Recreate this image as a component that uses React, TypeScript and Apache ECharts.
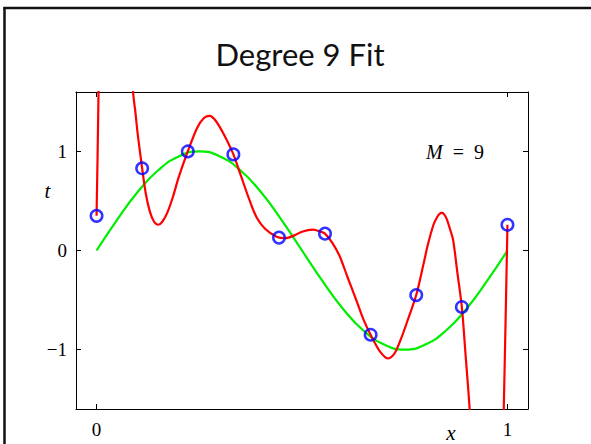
import React, { useEffect, useRef } from "react";
import * as echarts from "echarts";

const xTicks = [0, 1];
const yTicks = [-1, 0, 1];

// observed points (blue circles)
const pointX = [0, 0.111, 0.222, 0.333, 0.444, 0.556, 0.667, 0.778, 0.889, 1];
const pointY = [0.35, 0.83, 1.0, 0.97, 0.13, 0.17, -0.85, -0.45, -0.57, 0.26];

// green curve
const greenX = [0, 0.05, 0.1, 0.15, 0.2, 0.25, 0.3, 0.35, 0.4, 0.45, 0.5, 0.55, 0.6, 0.65, 0.7, 0.75, 0.8, 0.85, 0.9, 0.95, 1];
const greenY = [0, 0.31, 0.59, 0.81, 0.95, 1.0, 0.95, 0.81, 0.59, 0.31, 0, -0.31, -0.59, -0.81, -0.95, -1.0, -0.95, -0.81, -0.59, -0.31, 0];

// red curve (degree 9 fit), three visible pieces
const redPiece1 = [[0, 0.35], [0.0025, 0.95], [0.005, 1.65], [0.007, 2.2]];
const redPiece2 = [
  [0.084, 2.2], [0.089, 1.6], [0.095, 1.38], [0.1, 1.18], [0.111, 0.83], [0.12, 0.57],
  [0.13, 0.39], [0.14, 0.29], [0.15, 0.26], [0.16, 0.29], [0.172, 0.38], [0.185, 0.53],
  [0.2, 0.74], [0.222, 1.0], [0.245, 1.24], [0.262, 1.34], [0.275, 1.36], [0.29, 1.31],
  [0.31, 1.17], [0.333, 0.97], [0.35, 0.77], [0.373, 0.5], [0.39, 0.33], [0.41, 0.22],
  [0.438, 0.14], [0.46, 0.125], [0.48, 0.15], [0.5, 0.19], [0.527, 0.21], [0.545, 0.19],
  [0.556, 0.17], [0.575, 0.07], [0.592, -0.06], [0.61, -0.26], [0.633, -0.51], [0.65, -0.7],
  [0.667, -0.85], [0.69, -1.02], [0.71, -1.09], [0.725, -1.04], [0.742, -0.88], [0.76, -0.67],
  [0.778, -0.45], [0.795, -0.15], [0.807, 0.07], [0.82, 0.26], [0.828, 0.33], [0.835, 0.37],
  [0.84, 0.38], [0.845, 0.37], [0.852, 0.32], [0.86, 0.22], [0.868, 0.1], [0.878, -0.22],
  [0.889, -0.57], [0.898, -1.05], [0.908, -1.6], [0.914, -2.1],
];
const redPiece3 = [[0.988, -2.2], [0.991, -1.6], [0.9955, -0.7], [1, 0.26]];

const titleText = "Degree 9 Fit";

export default function App() {
  const ref = useRef<HTMLDivElement>(null);
  useEffect(() => {
    if (!ref.current) return;
    const chart = echarts.init(ref.current, undefined, { renderer: "svg" });
    const serif = "Liberation Serif";
    const fmt = (v: number) => (v < 0 ? "\u2212" + Math.abs(v) : String(v));
    const axisCommon = {
      type: "value" as const,
      splitLine: { show: false },
      axisLine: { show: true, onZero: false, lineStyle: { color: "#000", width: 1 } },
    };
    const redLine = (data: number[][]) => ({
      type: "line",
      data,
      showSymbol: false,
      smooth: 0.3,
      clip: true,
      lineStyle: { color: "#ff0000", width: 2.2 },
      z: 3,
    });
    chart.setOption({
      animation: false,
      backgroundColor: "#fff",
      grid: { left: 76, top: 92, right: 63, bottom: 35, containLabel: false },
      xAxis: [
        {
          ...axisCommon,
          min: -0.05,
          max: 1.05,
          position: "bottom",
          axisTick: { show: true, inside: true, length: 5, customValues: xTicks, lineStyle: { color: "#000" } },
          axisLabel: { show: true, customValues: xTicks, formatter: fmt, fontFamily: serif, fontSize: 19, color: "#000", margin: 11 },
        },
        {
          ...axisCommon,
          min: -0.05,
          max: 1.05,
          position: "top",
          axisTick: { show: true, inside: true, length: 5, customValues: xTicks, lineStyle: { color: "#000" } },
          axisLabel: { show: false },
        },
      ],
      yAxis: [
        {
          ...axisCommon,
          min: -1.6,
          max: 1.6,
          position: "left",
          axisTick: { show: true, inside: true, length: 5, customValues: yTicks, lineStyle: { color: "#000" } },
          axisLabel: { show: true, customValues: yTicks, formatter: fmt, fontFamily: serif, fontSize: 19, color: "#000", margin: 9 },
        },
        {
          ...axisCommon,
          min: -1.6,
          max: 1.6,
          position: "right",
          axisTick: { show: true, inside: true, length: 5, customValues: yTicks, lineStyle: { color: "#000" } },
          axisLabel: { show: false },
        },
      ],
      series: [
        {
          type: "line",
          data: greenX.map((x, i) => [x, greenY[i]]),
          showSymbol: false,
          smooth: true,
          lineStyle: { color: "#00ee00", width: 2.2 },
          z: 2,
        },
        redLine(redPiece1),
        redLine(redPiece2),
        redLine(redPiece3),
        {
          type: "scatter",
          data: pointX.map((x, i) => [x, pointY[i]]),
          symbol: "circle",
          symbolSize: 11.5,
          itemStyle: { color: "rgba(0,0,0,0)", borderColor: "#0000ff", borderWidth: 2.5 },
          z: 4,
        },
      ],
      graphic: [
        { type: "line", shape: { x1: 4.5, y1: 7, x2: 4.5, y2: 444 }, style: { stroke: "#111", lineWidth: 2.5 } },
        { type: "line", shape: { x1: 3.5, y1: 8, x2: 591, y2: 8 }, style: { stroke: "#111", lineWidth: 2.5 } },
        {
          type: "text",
          x: 300,
          y: 54,
          style: { text: titleText, fontFamily: "Lato", fontSize: 31, fill: "#111", textAlign: "center", textVerticalAlign: "middle" },
        },
        {
          type: "text",
          x: 47.5,
          y: 191,
          style: { text: "t", fontFamily: serif, fontStyle: "italic", fontSize: 21, fill: "#000", textAlign: "center", textVerticalAlign: "middle" },
        },
        {
          type: "text",
          x: 451,
          y: 433,
          style: { text: "x", fontFamily: serif, fontStyle: "italic", fontSize: 21, fill: "#000", textAlign: "center", textVerticalAlign: "middle" },
        },
        {
          type: "text",
          x: 426,
          y: 151.5,
          style: {
            text: "{i|M}{n|\u2002=\u20029}",
            rich: {
              i: { fontFamily: serif, fontStyle: "italic", fontSize: 20, fill: "#000" },
              n: { fontFamily: serif, fontSize: 20, fill: "#000" },
            },
            textAlign: "left",
            textVerticalAlign: "middle",
          },
        },
      ],
    });
    return () => chart.dispose();
  }, []);
  return (
    <div
      ref={ref}
      style={{ position: "fixed", left: 0, top: 0, width: 591, height: 444, background: "#fff" }}
    />
  );
}
